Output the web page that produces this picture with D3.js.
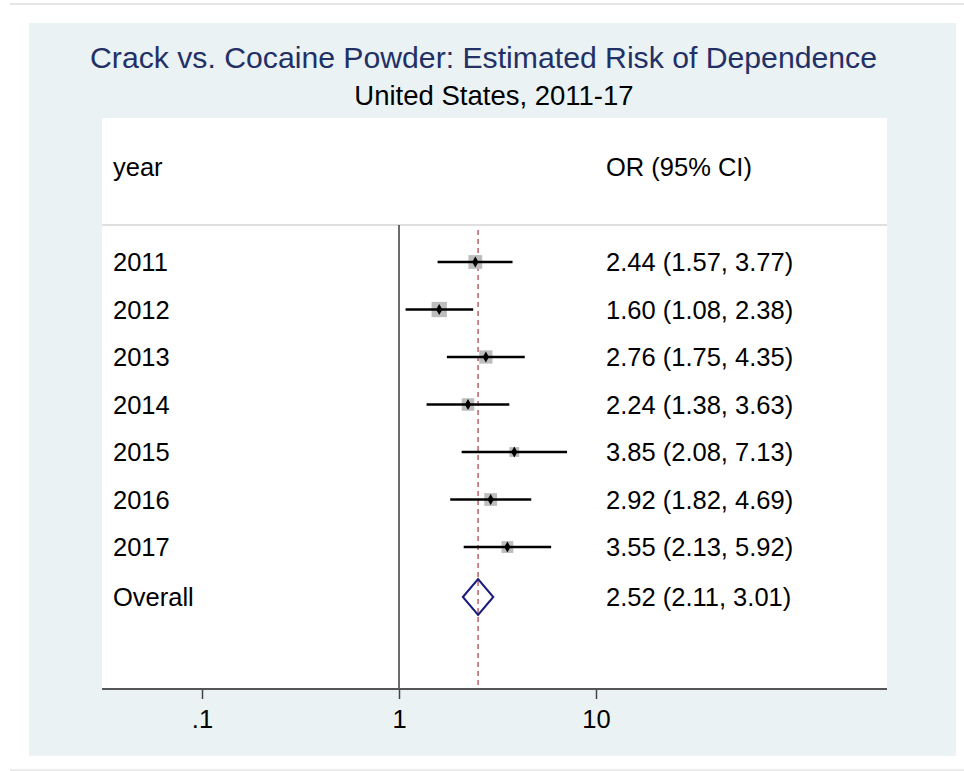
<!DOCTYPE html>
<html>
<head>
<meta charset="utf-8">
<script src="https://cdn.jsdelivr.net/npm/d3@7"></script>
<style>
  html, body { margin: 0; padding: 0; background: #ffffff; }
  svg { display: block; }
  text { font-family: "Liberation Sans", Arial, sans-serif; }
</style>
</head>
<body>
<script>
// Study rows: year-specific odds ratios with 95% confidence limits
const years   = ["2011", "2012", "2013", "2014", "2015", "2016", "2017"];
const orVals  = [2.44, 1.60, 2.76, 2.24, 3.85, 2.92, 3.55];
const ciLow   = [1.57, 1.08, 1.75, 1.38, 2.08, 1.82, 2.13];
const ciHigh  = [3.77, 2.38, 4.35, 3.63, 7.13, 4.69, 5.92];
// Relative weights (%) that set the size of each grey box
const weights = [16.5, 20.3, 15.2, 13.5, 8.3, 14.1, 12.1];
// Pooled estimate
const overallLabel = "Overall";
const overallOR = 2.52, overallLow = 2.11, overallHigh = 3.01;
// Axis ticks
const tickValues = [0.1, 1, 10];
const tickLabels = [".1", "1", "10"];

const W = 964, H = 771;
const svg = d3.select("body").append("svg").attr("width", W).attr("height", H);

const defs = svg.append("defs");
defs.append("filter").attr("id", "soft").attr("x", "-50%").attr("width", "200%")
  .append("feGaussianBlur").attr("stdDeviation", 1.2);

// Page edge with a soft shadow on the left
svg.append("line").attr("x1", 11).attr("x2", 11).attr("y1", 6).attr("y2", H)
  .attr("stroke", "#9a9a9a").attr("stroke-width", 3).attr("filter", "url(#soft)");
svg.append("line").attr("x1", 10).attr("x2", W).attr("y1", 4).attr("y2", 4)
  .attr("stroke", "#dcdcdc").attr("stroke-width", 1.5);
svg.append("line").attr("x1", 10).attr("x2", W).attr("y1", 770).attr("y2", 770)
  .attr("stroke", "#e6e6e6").attr("stroke-width", 1.5);

// Graph region (light blue) and plot region (white)
svg.append("rect").attr("x", 29).attr("y", 23).attr("width", 927).attr("height", 733)
  .attr("fill", "#eaf2f4");
const plot = { left: 102, right: 887, top: 118, bottom: 689 };
svg.append("rect").attr("x", plot.left).attr("y", plot.top)
  .attr("width", plot.right - plot.left).attr("height", plot.bottom - plot.top)
  .attr("fill", "#ffffff");

// Titles
svg.append("text").attr("x", 483.5).attr("y", 68).attr("text-anchor", "middle")
  .attr("font-size", 30.2).attr("fill", "#223066")
  .text("Crack vs. Cocaine Powder: Estimated Risk of Dependence");
svg.append("text").attr("x", 494).attr("y", 105).attr("text-anchor", "middle")
  .attr("font-size", 27.5).attr("fill", "#000")
  .text("United States, 2011-17");

// Scales
const x = d3.scaleLog().domain([0.1, 10]).range([202, 596]);
// rows are evenly spaced; the pooled row sits a little lower
const rowY = i => i < years.length ? 262 + i * 47.5 : 597;

const textCol = 113, valueCol = 606, fs = 25.5, base = 9;

// Column headers and header rule
svg.append("text").attr("x", textCol).attr("y", 176).attr("font-size", fs).text("year");
svg.append("text").attr("x", valueCol).attr("y", 176).attr("font-size", fs).text("OR (95% CI)");
svg.append("line").attr("x1", plot.left).attr("x2", plot.right).attr("y1", 225).attr("y2", 225)
  .attr("stroke", "#d4d4d4").attr("stroke-width", 1.5);

// Line of no effect
svg.append("line").attr("x1", x(1)).attr("x2", x(1)).attr("y1", 225).attr("y2", plot.bottom)
  .attr("stroke", "#3a3a3a").attr("stroke-width", 1.5);
// Pooled estimate reference line
svg.append("line").attr("x1", x(overallOR)).attr("x2", x(overallOR)).attr("y1", 230).attr("y2", plot.bottom)
  .attr("stroke", "#b8646a").attr("stroke-width", 1.5).attr("stroke-dasharray", "5,4");

const fmt = d3.format(".2f");
const rows = years.map((yr, i) => ({ yr, or: orVals[i], lo: ciLow[i], hi: ciHigh[i], w: weights[i], cy: rowY(i) }));

const g = svg.append("g");
rows.forEach(d => {
  const side = 3.4 * Math.sqrt(d.w);
  g.append("rect").attr("x", x(d.or) - side / 2).attr("y", d.cy - side / 2)
    .attr("width", side).attr("height", side).attr("fill", "#bdbdbd");
  g.append("line").attr("x1", x(d.lo)).attr("x2", x(d.hi)).attr("y1", d.cy).attr("y2", d.cy)
    .attr("stroke", "#000").attr("stroke-width", 2.3);
  g.append("path").attr("d", d3.symbol(d3.symbolDiamond, 34)())
    .attr("transform", `translate(${x(d.or)},${d.cy})`).attr("fill", "#000");
  g.append("text").attr("x", textCol).attr("y", d.cy + base).attr("font-size", fs).text(d.yr);
  g.append("text").attr("x", valueCol).attr("y", d.cy + base).attr("font-size", fs)
    .text(`${fmt(d.or)} (${fmt(d.lo)}, ${fmt(d.hi)})`);
});

// Pooled diamond
const oy = rowY(years.length);
g.append("path")
  .attr("d", `M${x(overallLow)},${oy} L${x(overallOR)},${oy - 18} L${x(overallHigh)},${oy} L${x(overallOR)},${oy + 18} Z`)
  .attr("fill", "none").attr("stroke", "#1a1a7e").attr("stroke-width", 2);
g.append("text").attr("x", textCol).attr("y", oy + base).attr("font-size", fs).text(overallLabel);
g.append("text").attr("x", valueCol).attr("y", oy + base).attr("font-size", fs)
  .text(`${fmt(overallOR)} (${fmt(overallLow)}, ${fmt(overallHigh)})`);

// Bottom axis
const axis = d3.axisBottom(x).tickValues(tickValues)
  .tickFormat((v, i) => tickLabels[i]).tickSize(10).tickSizeOuter(0).tickPadding(11);
const ax = svg.append("g").attr("transform", `translate(0,${plot.bottom})`).call(axis);
ax.select(".domain").remove();
ax.append("line").attr("x1", plot.left).attr("x2", plot.right).attr("stroke", "#555").attr("stroke-width", 2);
ax.selectAll(".tick line").attr("stroke", "#444").attr("stroke-width", 1.5);
ax.selectAll(".tick text").attr("font-size", fs).attr("fill", "#000")
  .attr("font-family", "'Liberation Sans', Arial, sans-serif");
</script>
</body>
</html>
